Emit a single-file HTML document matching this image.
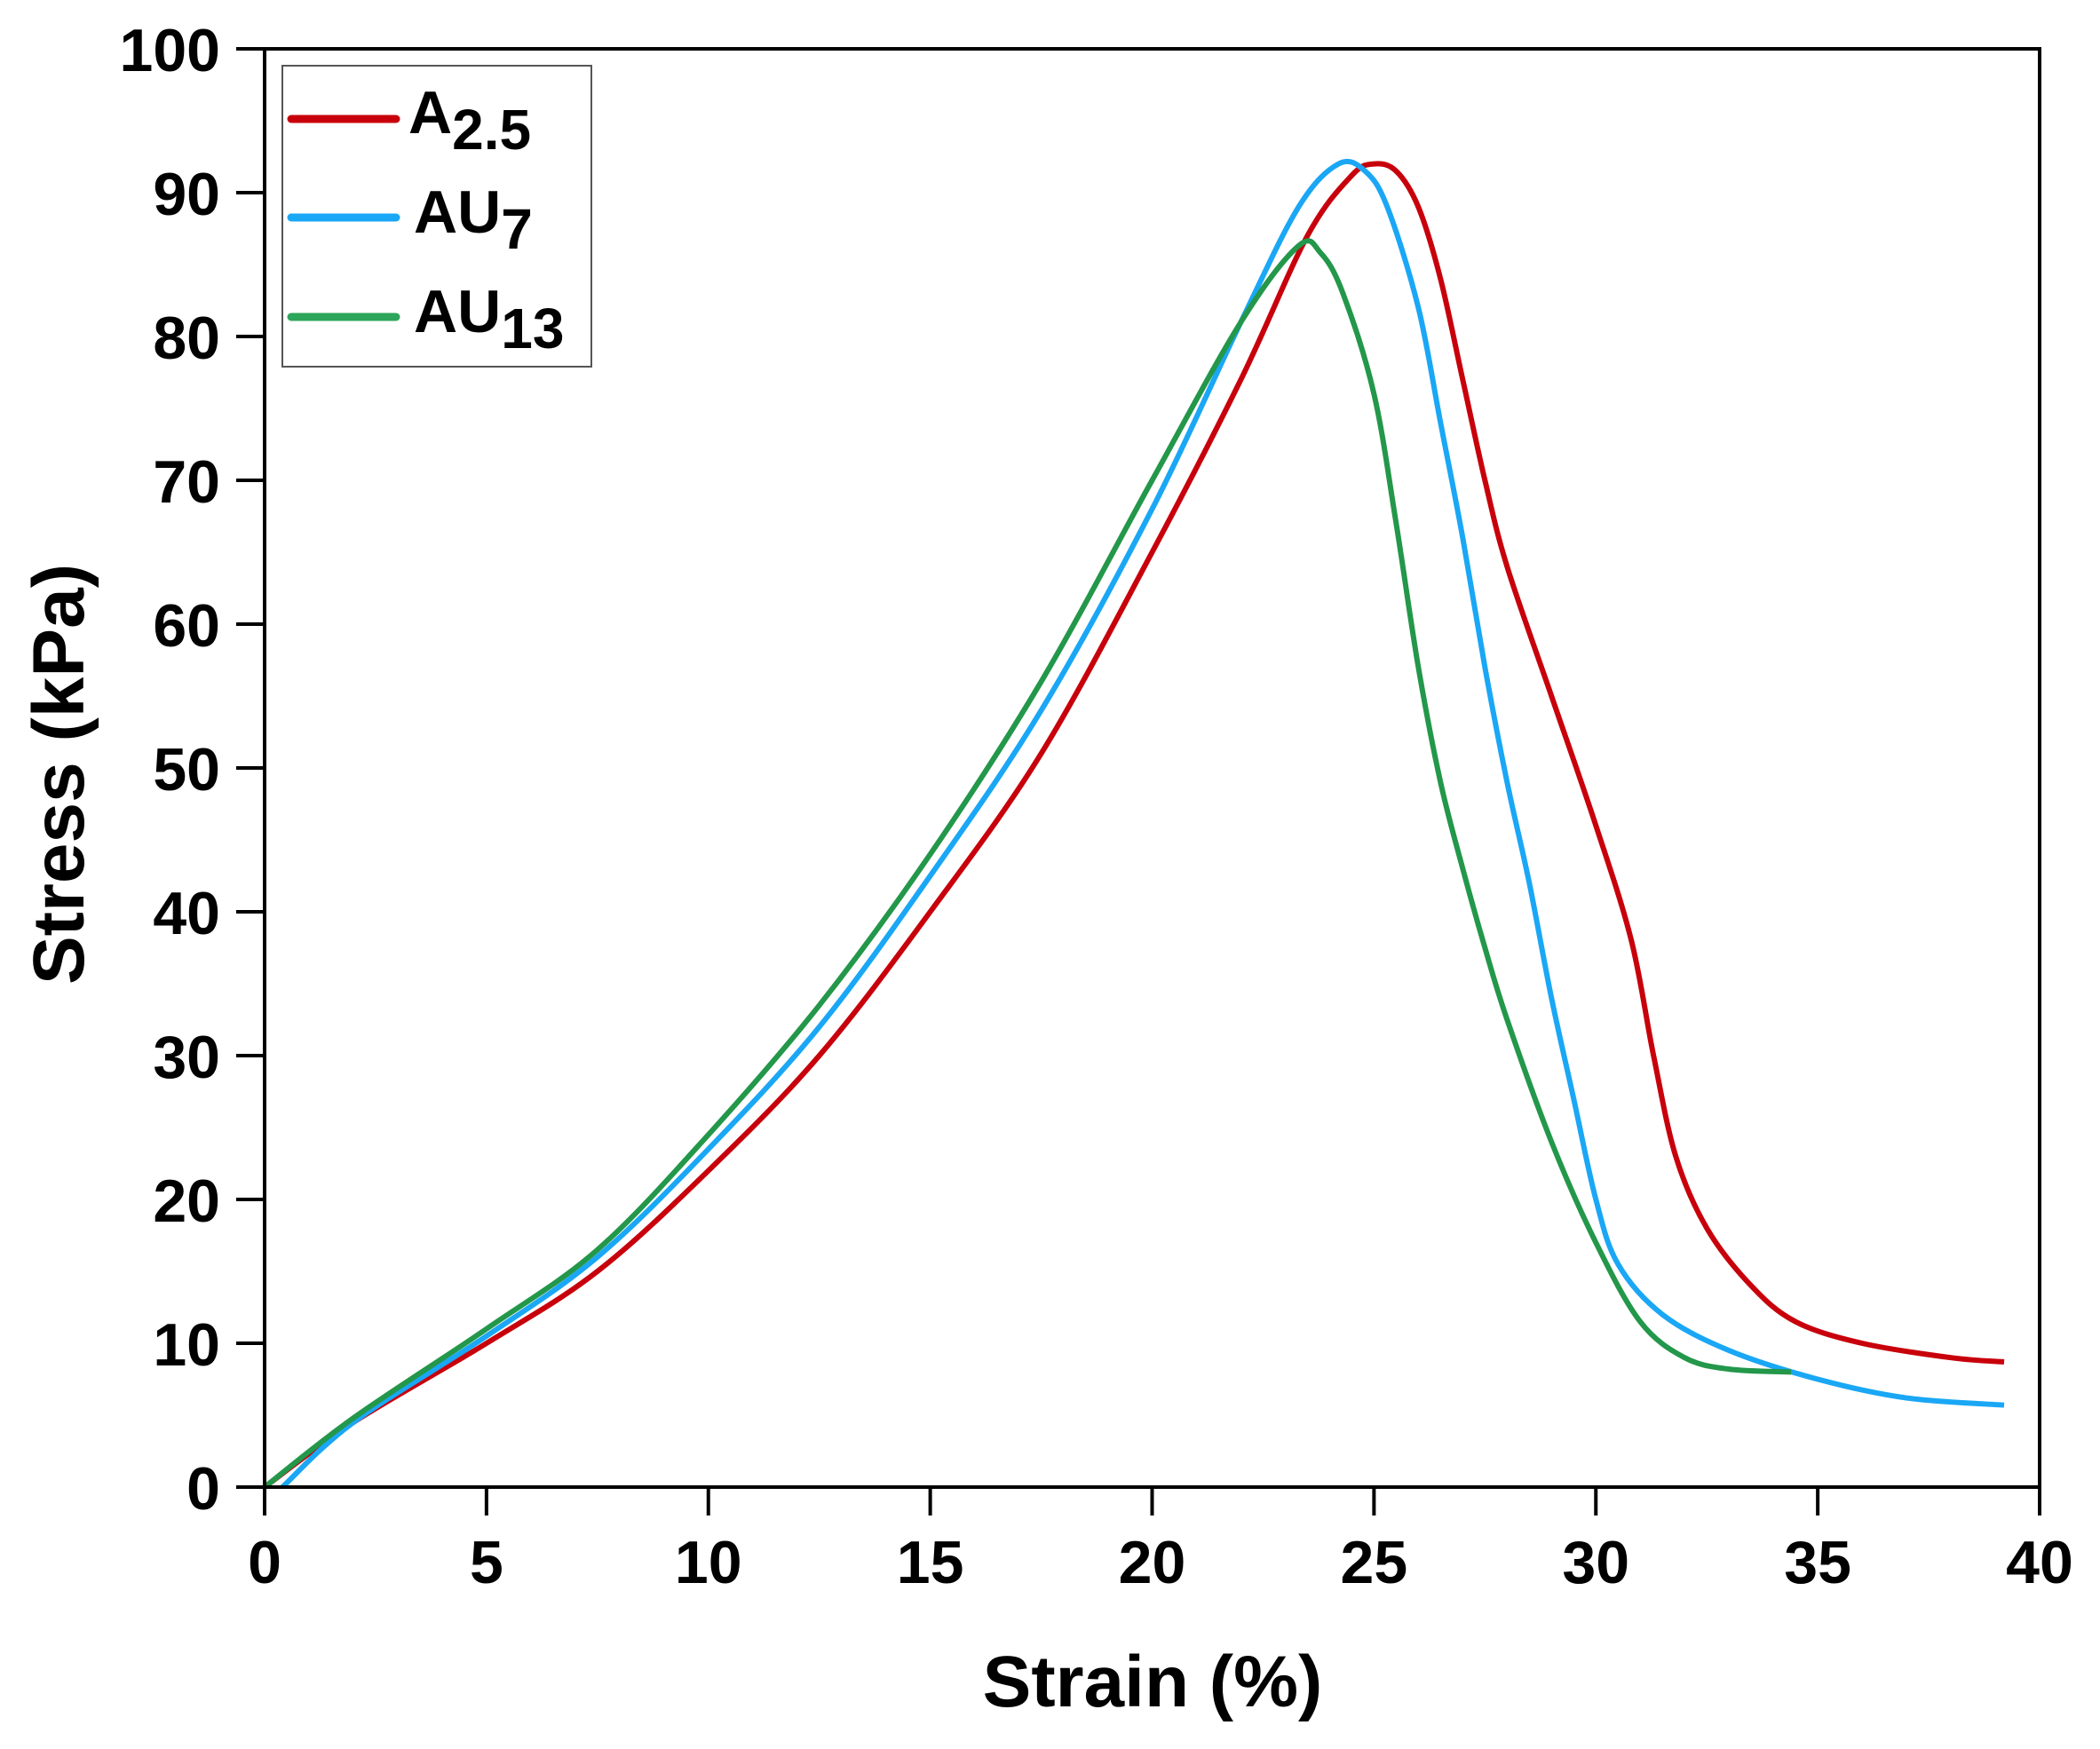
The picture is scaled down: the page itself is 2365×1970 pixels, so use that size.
<!DOCTYPE html>
<html><head><meta charset="utf-8"><style>
html,body{margin:0;padding:0;background:#fff;}
svg{display:block;font-family:"Liberation Sans",Arial,sans-serif;font-weight:bold;}
</style></head><body>
<svg id="chart" width="2365" height="1970" viewBox="0 0 2365 1970" xmlns="http://www.w3.org/2000/svg">
<g id="series"></g>
<g id="axes"></g>
<text x="1298" y="1922" font-size="82" text-anchor="middle">Strain (%)</text>
<text transform="translate(94,872) rotate(-90)" font-size="82" text-anchor="middle">Stress (kPa)</text>
<g>
<rect x="318" y="74" width="348" height="339" fill="#fff" stroke="#555" stroke-width="2"/>
<line x1="328" y1="134" x2="446" y2="134" stroke="#c8000b" stroke-width="9" stroke-linecap="round"/>
<text x="460" y="150" font-size="68">A<tspan font-size="64" dy="18">2.5</tspan></text>
<line x1="328" y1="245" x2="446" y2="245" stroke="#1aa7f5" stroke-width="9" stroke-linecap="round"/>
<text x="466" y="262" font-size="68">AU<tspan font-size="64" dy="18">7</tspan></text>
<line x1="328" y1="357" x2="446" y2="357" stroke="#2da55a" stroke-width="9" stroke-linecap="round"/>
<text x="466" y="374" font-size="68">AU<tspan font-size="64" dy="18">13</tspan></text>
</g>
</svg>
<script>
const xTicks = [0,5,10,15,20,25,30,35,40];
const yTicks = [0,10,20,30,40,50,60,70,80,90,100];
const a25X = [0,2,5,7.5,10,12.5,15,17.5,20,22,23.5,24.5,25,25.5,26,26.5,27,27.5,28,29,30,30.8,31.3,31.8,32.5,33.5,34.5,36,38,39.2];
const a25Y = [0,4.5,10,15,22,30,40,51,65,77,87,91.2,92,91.5,89,84,77,70,64,55,46,38,30,23,18,14,11.5,10,9,8.7];
const au7X = [0.4,2,5,7.5,10,12.5,15,17.5,20,22,23.3,24.2,24.8,25.3,26,26.5,27,27.5,28,28.5,29,29.5,30,30.5,31.5,33,35,37,39.2];
const au7Y = [0,4.5,10.5,16,23.5,32,42.5,54,68,81,89,92,91.5,89,82,74,66,57,49,42,34,27,20,15.5,12,9.5,7.5,6.2,5.7];
const au13X = [0,2,5,7.5,10,12.5,15,17.5,20,22,23.3,23.8,24.3,25,25.5,26,26.5,27,27.5,28,29,30,31,32,33,34.4];
const au13Y = [0,4.8,11,16.5,24.5,33.5,44,56,70,81,86.3,85.8,83,76,67,57,49,43,37.5,32.5,24,17,11.5,9,8.2,8];

const X0=298,X1=2297,Y0=1675,Y1=55;
const sx=v=>X0+(v-0)/(40-0)*(X1-X0);
const sy=v=>Y0-(v-0)/(100-0)*(Y0-Y1);
const NS="http://www.w3.org/2000/svg";
const axes=document.getElementById('axes');
const series=document.getElementById('series');
function mk(tag,attrs,parent){const e=document.createElementNS(NS,tag);for(const k in attrs)e.setAttribute(k,attrs[k]);parent.appendChild(e);return e;}

function smoothPath(xs,ys){
  const p=xs.map((x,i)=>[sx(x),sy(ys[i])]);
  let d=`M${p[0][0]},${p[0][1]}`;
  for(let i=0;i<p.length-1;i++){
    const p0=p[i-1]||p[i],p1=p[i],p2=p[i+1],p3=p[i+2]||p2;
    const c1=[p1[0]+(p2[0]-p0[0])/6,p1[1]+(p2[1]-p0[1])/6];
    const c2=[p2[0]-(p3[0]-p1[0])/6,p2[1]-(p3[1]-p1[1])/6];
    d+=` C${c1[0]},${c1[1]} ${c2[0]},${c2[1]} ${p2[0]},${p2[1]}`;
  }
  return d;
}
const defs=[[a25X,a25Y,'#c8000b','series-a2-5'],[au7X,au7Y,'#1aa7f5','series-au7'],[au13X,au13Y,'#23974a','series-au13']];
defs.forEach(s=>{
  const el=mk('path',{d:smoothPath(s[0],s[1]),fill:'none',stroke:s[2],'stroke-width':6,'stroke-linejoin':'round'},series);
  
  
});

const frame=mk('rect',{x:X0,y:Y1,width:X1-X0,height:Y0-Y1,fill:'none',stroke:'#000','stroke-width':4},axes);


xTicks.forEach(t=>{
  const l=mk('line',{x1:sx(t),x2:sx(t),y1:Y0,y2:Y0+32,stroke:'#000','stroke-width':4},axes);
  
  
  const tx=mk('text',{x:sx(t),y:Y0+108,'font-size':68,'text-anchor':'middle'},axes);
  tx.textContent=t;
  
  
});
yTicks.forEach(t=>{
  const l=mk('line',{x1:X0-32,x2:X0,y1:sy(t),y2:sy(t),stroke:'#000','stroke-width':4},axes);
  
  
  const tx=mk('text',{x:X0-50,y:sy(t)+25,'font-size':68,'text-anchor':'end'},axes);
  tx.textContent=t;
  
  
});
</script>
</body></html>
